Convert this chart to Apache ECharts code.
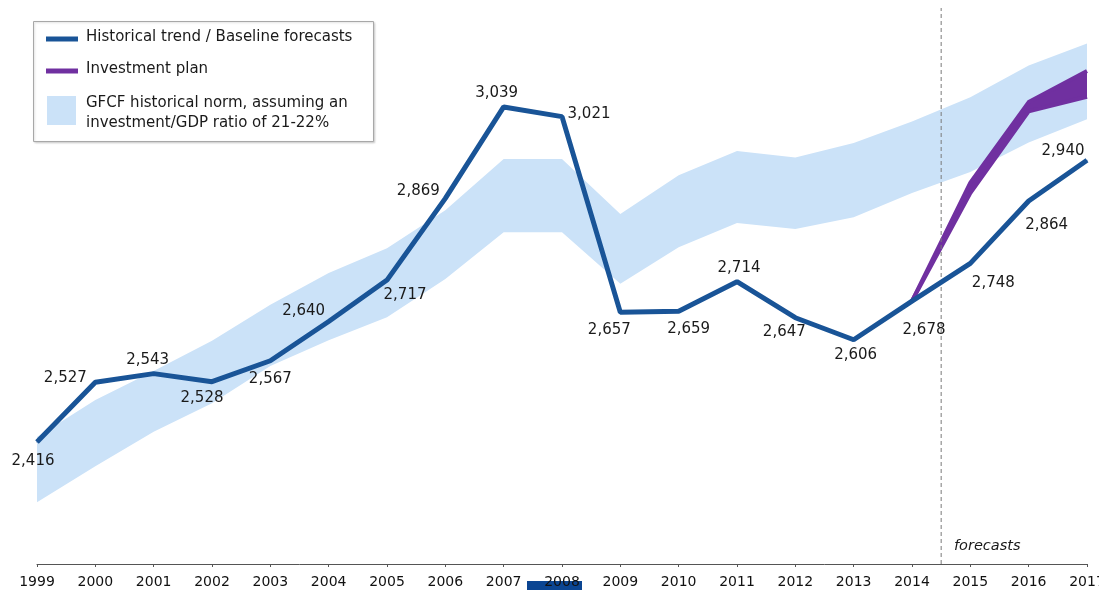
<!DOCTYPE html>
<html>
<head>
<meta charset="utf-8">
<script src="https://cdn.jsdelivr.net/npm/echarts@6/dist/echarts.min.js"></script>
<style>
  html, body { margin: 0; padding: 0; background: #fff; }
  #chart { width: 1099px; height: 590px; }
</style>
</head>
<body>
<div id="chart"></div>
<script>
var years = ['1999','2000','2001','2002','2003','2004','2005','2006','2007','2008',
             '2009','2010','2011','2012','2013','2014','2015','2016','2017'];
// historical trend / baseline forecasts
var baseline = [2416, 2527, 2543, 2528, 2567, 2640, 2717, 2869, 3039, 3021,
                2657, 2659, 2714, 2647, 2606, 2678, 2748, 2864, 2940];
// GFCF historical norm band (21-22% ratio)
var normLow  = [2304, 2371, 2435, 2488, 2557, 2605, 2648, 2719, 2806, 2806,
                2710, 2778, 2823, 2812, 2834, 2879, 2918, 2973, 3016];
var normHigh = [2425, 2494, 2548, 2604, 2671, 2730, 2776, 2847, 2942, 2942,
                2840, 2912, 2957, 2945, 2972, 3012, 3057, 3116, 3157];
// investment plan band
var planLow  = [null, null, null, null, null, null, null, null, null, null,
                null, null, null, null, null, 2678, 2879, 3031, 3058];
var planHigh = [null, null, null, null, null, null, null, null, null, null,
                null, null, null, null, null, 2678, 2898, 3048, 3106];
var forecastStart = 2014.5;

// label placement around each point [dx, dy]
var labelOffsets = [[-4,19],[-30,-4],[-6,-14],[-10,16],[0,18],[-25,-10],[18,15],[-27,-7],
                    [-7,-14],[27,-3],[-11,18],[10,18],[2,-14],[-11,14],[2,15],[12,29],
                    [23,20],[18,24],[-24,-9]];

var BLUE = '#195497', PURPLE = '#7030a0', BAND = '#cbe2f8';
var FONT = 'DejaVu Sans';
var Y_MIN = 2189, Y_MAX = 3223;

var myChart = echarts.init(document.getElementById('chart'));

function diff(hi, lo) {
    return hi.map(function (v, i) { return v == null ? null : v - lo[i]; });
}

var baselineData = baseline.map(function (v, i) {
    return {
        value: v,
        label: { offset: labelOffsets[i] }
    };
});

var option = {
    animation: false,
    grid: { left: 37, right: 12, top: 8, bottom: 26, outerBoundsMode: 'none', containLabel: false },
    xAxis: [
        {
            type: 'category',
            data: years,
            boundaryGap: false,
            z: 5,
            axisLine: { lineStyle: { color: '#555', width: 1 } },
            axisTick: { show: true, length: 3, alignWithLabel: true, lineStyle: { color: '#555' } },
            axisLabel: { color: '#111', fontFamily: FONT, fontSize: 14, margin: 11, interval: 0 },
            splitLine: { show: false }
        },
        {
            type: 'value',
            min: 1999,
            max: 2017,
            show: false
        }
    ],
    yAxis: {
        type: 'value',
        min: Y_MIN,
        max: Y_MAX,
        show: false
    },
    series: [
        {
            type: 'line',
            stack: 'norm',
            data: normLow,
            symbol: 'none',
            lineStyle: { width: 0 },
            silent: true,
            z: 1
        },
        {
            type: 'line',
            stack: 'norm',
            data: diff(normHigh, normLow),
            symbol: 'none',
            lineStyle: { width: 0 },
            areaStyle: { color: BAND, opacity: 1 },
            silent: true,
            z: 1
        },
        {
            type: 'line',
            stack: 'plan',
            data: planLow,
            symbol: 'none',
            lineStyle: { color: PURPLE, width: 4, join: 'round' },
            z: 2
        },
        {
            type: 'line',
            stack: 'plan',
            data: diff(planHigh, planLow),
            symbol: 'none',
            lineStyle: { color: PURPLE, width: 4, join: 'round' },
            areaStyle: { color: PURPLE, opacity: 1 },
            z: 2
        },
        {
            type: 'line',
            xAxisIndex: 1,
            data: [[forecastStart, Y_MIN], [forecastStart, Y_MAX]],
            symbol: 'none',
            lineStyle: { color: '#7a7a7a', width: 1, type: [4, 3] },
            z: 3
        },
        {
            type: 'line',
            data: baselineData,
            symbol: 'circle',
            symbolSize: 1,
            itemStyle: { color: BLUE },
            lineStyle: { color: BLUE, width: 5 },
            label: {
                show: true,
                position: 'inside',
                color: '#1a1a1a',
                fontFamily: FONT,
                fontSize: 15,
                formatter: function (p) {
                    return String(p.value).replace(/\B(?=(\d{3})+(?!\d))/g, ',');
                }
            },
            z: 4
        }
    ],
    graphic: [
        {
            type: 'rect',
            shape: { x: 33.5, y: 21.5, width: 340, height: 120 },
            style: { fill: '#fff', stroke: '#a8a8a8', lineWidth: 1, shadowColor: 'rgba(0,0,0,0.15)', shadowBlur: 2, shadowOffsetX: 1, shadowOffsetY: 1 },
            z: 10
        },
        {
            type: 'line',
            shape: { x1: 46, y1: 39, x2: 78, y2: 39 },
            style: { stroke: BLUE, lineWidth: 5 },
            z: 11
        },
        {
            type: 'text',
            left: 86, top: 30,
            style: { text: 'Historical trend / Baseline forecasts', fill: '#1a1a1a', font: '15px "DejaVu Sans"' },
            z: 11
        },
        {
            type: 'line',
            shape: { x1: 46, y1: 71, x2: 78, y2: 71 },
            style: { stroke: PURPLE, lineWidth: 5 },
            z: 11
        },
        {
            type: 'text',
            left: 86, top: 62,
            style: { text: 'Investment plan', fill: '#1a1a1a', font: '15px "DejaVu Sans"' },
            z: 11
        },
        {
            type: 'rect',
            shape: { x: 47, y: 96, width: 29, height: 29 },
            style: { fill: BAND },
            z: 11
        },
        {
            type: 'text',
            left: 86, top: 93,
            style: { text: 'GFCF historical norm, assuming an\ninvestment/GDP ratio of 21-22%', fill: '#1a1a1a', font: '15px "DejaVu Sans"', lineHeight: 20 },
            z: 11
        },
        {
            type: 'text',
            left: 954, top: 539,
            style: { text: 'forecasts', fill: '#1a1a1a', font: 'italic 14.5px "DejaVu Sans"' },
            z: 11
        },
        {
            type: 'rect',
            shape: { x: 527, y: 581, width: 55, height: 9 },
            style: { fill: '#0b4592' },
            z: -1
        }
    ]
};

myChart.setOption(option);
window.addEventListener('resize', function () { myChart.resize(); });
</script>
</body>
</html>
